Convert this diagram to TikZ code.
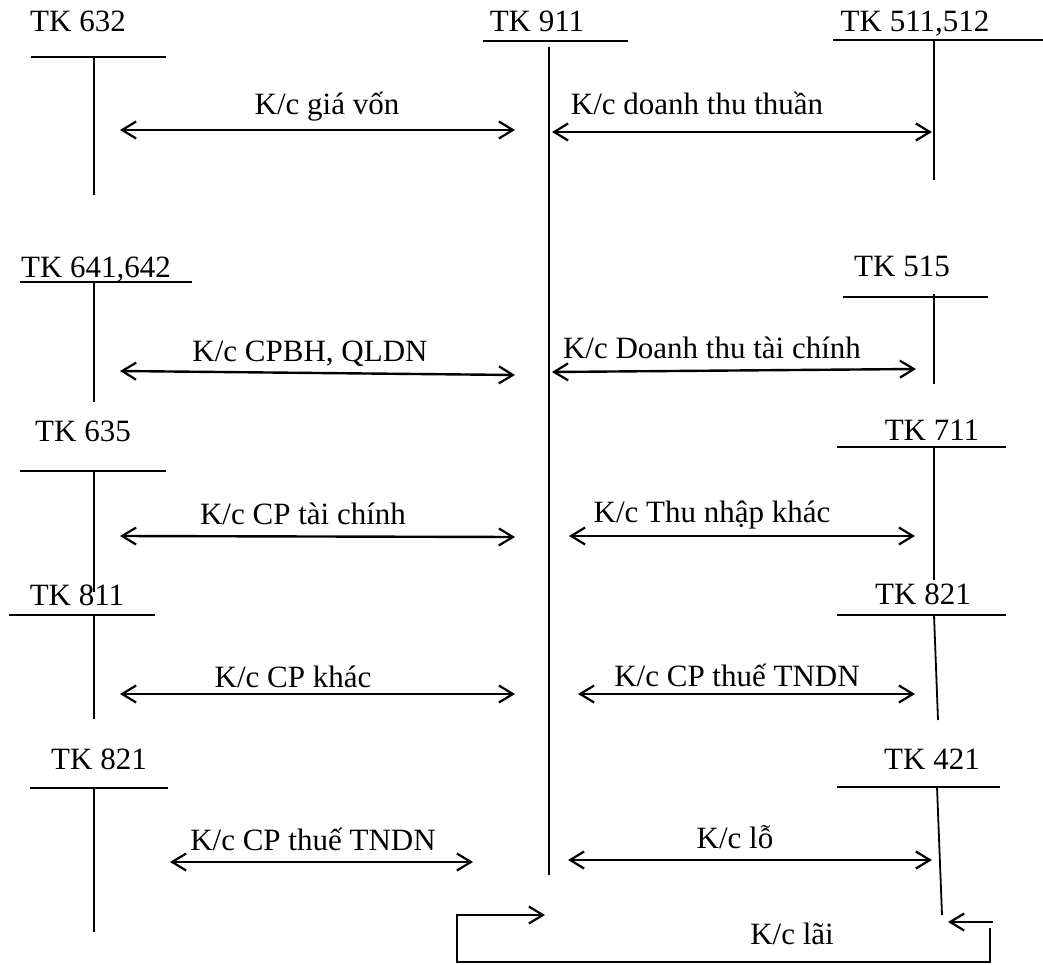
\documentclass[tikz,border=0pt]{standalone}
\usepackage{fontspec}
\setmainfont{Liberation Serif}
\usetikzlibrary{arrows.meta}

\begin{document}
\begin{tikzpicture}[x=1pt, y=-1pt,
  acc/.style={line width=1.8pt},
  barb/.tip={Straight Barb[length=14pt, width=17pt, line width=2.2pt]},
  kc/.style={line width=2.4pt, barb-barb},
  lbl/.style={anchor=base, inner sep=0pt, font=\fontsize{31}{37}\selectfont}]
\useasboundingbox (0,0) rectangle (1043,965);
% account names
\node[lbl] (n632) at (78,32) {TK 632};
\node[lbl] (n911) at (537,32) {TK 911};
\node[lbl] (n511) at (915,32) {TK 511,512};
\node[lbl] (n641) at (96,278) {TK 641,642};
\node[lbl] (n515) at (902,277) {TK 515};
\node[lbl] (n635) at (83,441) {TK 635};
\node[lbl] (n711) at (932,440) {TK 711};
\node[lbl] (n811) at (77,605) {TK 811};
\node[lbl] (n821r) at (923,604) {TK 821};
\node[lbl] (n821l) at (99,769) {TK 821};
\node[lbl] (n421) at (932,769) {TK 421};
% T accounts
\draw[acc] (31,57) -- (166,57);
\draw[acc] (94,57) -- (94,195);
\draw[acc] (483,41) -- (628,41);
\draw[acc] (549,47) -- (549,875);
\draw[acc] (833,40) -- (1043,40);
\draw[acc] (934,40) -- (934,180);
\draw[acc] (20,282) -- (192,282);
\draw[acc] (94,282) -- (94,402);
\draw[acc] (843,297) -- (988,297);
\draw[acc] (934,294) -- (934,384);
\draw[acc] (20,471) -- (166,471);
\draw[acc] (94,471) -- (94,592);
\draw[acc] (837,447) -- (1006,447);
\draw[acc] (934,447) -- (934,580);
\draw[acc] (9,615) -- (155,615);
\draw[acc] (94,615) -- (94,719);
\draw[acc] (837,615) -- (1006,615);
\draw[acc] (934,615) -- (938,720);
\draw[acc] (30,788) -- (168,788);
\draw[acc] (94,788) -- (94,932);
\draw[acc] (837,787) -- (1000,787);
\draw[acc] (937,787) -- (942,915);
% arrow ends
\coordinate (a1l) at (120,130);
\coordinate (a1r) at (515,130);
\coordinate (a2l) at (552,132);
\coordinate (a2r) at (932,132);
\coordinate (a3l) at (120,371);
\coordinate (a3r) at (515,375);
\coordinate (a4l) at (552,372);
\coordinate (a4r) at (916,369);
\coordinate (a5l) at (120,536);
\coordinate (a5r) at (515,537);
\coordinate (a6l) at (569,536);
\coordinate (a6r) at (915,536);
\coordinate (a7l) at (120,694);
\coordinate (a7r) at (515,694);
\coordinate (a8l) at (578,694);
\coordinate (a8r) at (915,694);
\coordinate (a9l) at (170,862);
\coordinate (a9r) at (473,862);
\coordinate (a10l) at (568,860);
\coordinate (a10r) at (932,860);
\draw[kc] (a1l) -- (a1r);
\draw[kc] (a2l) -- (a2r);
\draw[kc] (a3l) -- (a3r);
\draw[kc] (a4l) -- (a4r);
\draw[kc] (a5l) -- (a5r);
\draw[kc] (a6l) -- (a6r);
\draw[kc] (a7l) -- (a7r);
\draw[kc] (a8l) -- (a8r);
\draw[kc] (a9l) -- (a9r);
\draw[kc] (a10l) -- (a10r);
% closing profit
\coordinate (l1) at (993,922);
\coordinate (l2) at (948,922);
\coordinate (l3) at (990,928);
\coordinate (l4) at (545,915);
\draw[line width=2.4pt, -barb] (l1) -- (l2);
\draw[line width=2pt, -barb] (l3) |- (457,962) |- (l4);
% texts
\node[lbl] (t1) at (327,115) {K/c giá vốn};
\node[lbl] (t2) at (697,115) {K/c doanh thu thuần};
\node[lbl] (t3) at (310,361) {K/c CPBH, QLDN};
\node[lbl] (t4) at (712,358) {K/c Doanh thu tài chính};
\node[lbl] (t5) at (303,524) {K/c CP tài chính};
\node[lbl] (t6) at (712,522) {K/c Thu nhập khác};
\node[lbl] (t7) at (293,687) {K/c CP khác};
\node[lbl] (t8) at (737,686) {K/c CP thuế TNDN};
\node[lbl] (t9) at (313,850) {K/c CP thuế TNDN};
\node[lbl] (t10) at (735,848) {K/c lỗ};
\node[lbl] (t11) at (792,944) {K/c lãi};
\end{tikzpicture}
\end{document}
